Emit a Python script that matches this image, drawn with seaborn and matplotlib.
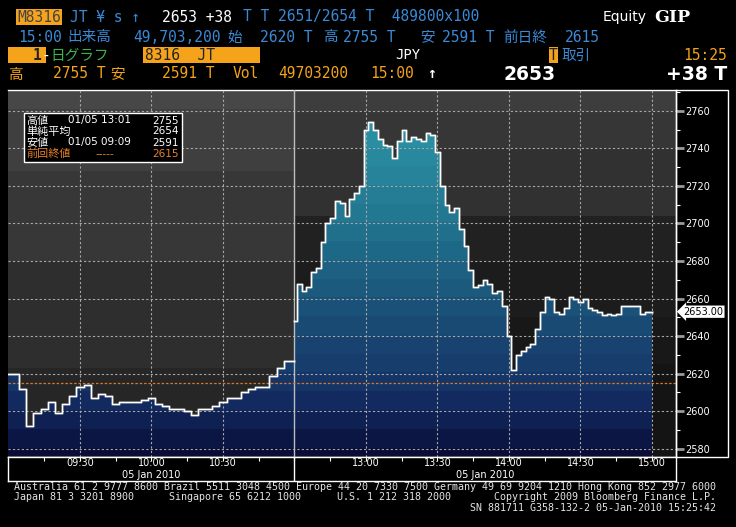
import numpy as np
import matplotlib
matplotlib.use("Agg")
import matplotlib.pyplot as plt
import matplotlib.transforms as mtransforms
from matplotlib.patches import Rectangle
from matplotlib.colors import LinearSegmentedColormap
import seaborn as sns

# 8316 JT intraday, 05 Jan 2010
# x = trading minutes from 09:00 with the lunch break cut out (11:00 -> 12:30 = 120)
am_minutes = np.arange(0, 121, 3)
am_prices = [2620, 2620, 2612, 2592, 2599, 2601, 2605, 2599, 2604, 2608,
             2613, 2614, 2607, 2609, 2608, 2604, 2605, 2605, 2605, 2606,
             2607, 2604, 2603, 2601, 2601, 2600, 2598, 2601, 2601, 2603,
             2605, 2607, 2607, 2610, 2612, 2613, 2613, 2619, 2623, 2627, 2627]
pm_minutes = np.arange(120, 271, 2)
pm_prices = [2648, 2668, 2664, 2666, 2674, 2676, 2690, 2700, 2703, 2712,
             2711, 2704, 2713, 2716, 2720, 2750, 2754, 2750, 2745, 2742,
             2741, 2735, 2744, 2750, 2744, 2746, 2745, 2744, 2748, 2747,
             2738, 2720, 2710, 2706, 2708, 2697, 2688, 2675, 2666, 2667,
             2670, 2668, 2663, 2664, 2656, 2640, 2622, 2630, 2632, 2634,
             2636, 2644, 2653, 2661, 2660, 2653, 2652, 2655, 2661, 2660,
             2658, 2660, 2655, 2654, 2653, 2651, 2652, 2651, 2652, 2656,
             2656, 2656, 2656, 2652, 2653, 2653]

y_ticks = [2580, 2600, 2620, 2640, 2660, 2680, 2700, 2720, 2740, 2760]
y_minor = [2590, 2610, 2630, 2650, 2670, 2690, 2710, 2730, 2750, 2770]
time_ticks = [30, 60, 90, 150, 180, 210, 240, 270]
time_labels = ["09:30", "10:00", "10:30", "13:00", "13:30", "14:00", "14:30", "15:00"]
session_break = 120
prev_close = 2615
last_price = 2653

legend_rows = [("高値", "01/05 13:01", "2755"),
               ("単純平均", "", "2654"),
               ("安値", "01/05 09:09", "2591"),
               ("前回終値", "-----", "2615")]

XMIN, XMAX = -0.2, 280.1
YMIN, YMAX = 2575.9, 2771.3

W, H = 736, 527
fig = plt.figure(figsize=(W / 100, H / 100), dpi=100, facecolor="black")


def fx(x):
    return x / W


def fy(y):
    return 1 - y / H


mono = ["DejaVu Sans Mono", "Noto Sans CJK JP"]
cjk = ["Noto Sans CJK JP", "DejaVu Sans"]
BLUE = "#3a8ad6"
ORANGE = "#f5a31a"
GREEN = "#3cb44a"


def put(x, y, s, color, size=10.5, weight="normal", family=mono, ha="left"):
    fig.text(fx(x), fy(y), s, color=color, fontsize=size, fontweight=weight,
             family=family, ha=ha, va="center")


def box(x0, y0, x1, y1, fc, ec="none", lw=0):
    fig.add_artist(Rectangle((fx(x0), fy(y1)), fx(x1) - fx(x0), (y1 - y0) / H,
                             transform=fig.transFigure, fc=fc, ec=ec, lw=lw))


# ---- main price panel
ax = fig.add_axes([fx(8), fy(456.5), fx(676) - fx(8), (456.5 - 89.5) / H])
ax.set_facecolor("black")

# banded background, lighter in the morning session
am_bands = [(YMIN, 2623, "#262626"), (2623, 2680, "#2e2e2e"), (2680, 2728, "#373737"),
            (2728, 2761, "#3f3f3f"), (2761, YMAX, "#474747")]
pm_bands = [(YMIN, 2625, "#141414"), (2625, 2650, "#181818"), (2650, 2680, "#1c1c1c"),
            (2680, 2704, "#212121"), (2704, 2740, "#313131"), (2740, 2760, "#363636"),
            (2760, YMAX, "#3d3d3d")]
for lo, hi, c in am_bands:
    ax.add_patch(Rectangle((XMIN, lo), session_break - XMIN, hi - lo, color=c, lw=0, zorder=0))
for lo, hi, c in pm_bands:
    ax.add_patch(Rectangle((session_break, lo), XMAX - session_break, hi - lo, color=c, lw=0, zorder=0))

fill_stops = [(2575, "#0a0d38"), (2600, "#11265c"), (2620, "#173b6c"), (2640, "#194772"),
              (2660, "#1b567b"), (2680, "#1e6585"), (2700, "#22748f"), (2720, "#268198"),
              (2740, "#2a8ca1"), (2760, "#2e95a8"), (2772, "#3099aa")]
fill_cmap = LinearSegmentedColormap.from_list(
    "bbg", [((v - 2575) / (2772 - 2575), c) for v, c in fill_stops])
levels = np.arange(YMIN, YMAX, 0.5)
grad = (np.floor(levels / 10) * 10 + 5).reshape(-1, 1)


def draw_session(minutes, prices):
    poly = ax.fill_between(minutes, prices, YMIN, step="mid", color="none", lw=0)
    im = ax.imshow(grad, extent=[minutes[0], minutes[-1], YMIN, YMAX], origin="lower",
                   aspect="auto", cmap=fill_cmap, vmin=2575, vmax=2772,
                   interpolation="nearest", zorder=2)
    im.set_clip_path(poly.get_paths()[0], transform=ax.transData)
    sns.lineplot(x=minutes, y=prices, drawstyle="steps-mid", color="#d8d8d8",
                 lw=2.0, alpha=0.35, ax=ax, zorder=5)
    sns.lineplot(x=minutes, y=prices, drawstyle="steps-mid", color="white",
                 lw=1.0, ax=ax, zorder=6)


draw_session(am_minutes, am_prices)
draw_session(pm_minutes, pm_prices)

for v in y_ticks:
    ax.axhline(v, color="#a8a8a8", lw=0.8, ls=(0, (2, 2)), zorder=3)
for m in time_ticks:
    ax.axvline(m, color="#a8a8a8", lw=0.8, ls=(0, (2, 2)), zorder=3)
ax.axvline(session_break, color="#bdbdbd", lw=1.0, zorder=4)
ax.axhline(prev_close, color="#d9782a", lw=0.9, ls=(0, (2, 1.5)), zorder=4)

ax.set_xlim(XMIN, XMAX)
ax.set_ylim(YMIN, YMAX)
ax.set_xlabel("")
ax.set_ylabel("")
ax.set_xticks([])
ax.yaxis.tick_right()
ax.set_yticks(y_ticks)
ax.set_yticks(y_minor, minor=True)
ax.tick_params(axis="y", which="major", length=6, width=2, color="#9a9a9a",
               labelcolor="white", labelsize=7, pad=1)
ax.tick_params(axis="y", which="minor", length=3, width=0.8, color="white")
ax.spines["left"].set_visible(False)
for side in ["top", "right", "bottom"]:
    ax.spines[side].set_color("white")
    ax.spines[side].set_linewidth(1)

tag = mtransforms.blended_transform_factory(ax.transAxes, ax.transData)
ax.text(1.011, last_price, f"{last_price:.2f}", transform=tag, ha="left", va="center",
        fontsize=7, color="black",
        bbox=dict(boxstyle="larrow,pad=0.12", fc="white", ec="none"))

# ---- time axis strip
tax = fig.add_axes([fx(8), fy(481), fx(676) - fx(8), (481 - 456.5) / H])
tax.set_facecolor("black")
tax.set_xlim(XMIN, XMAX)
tax.set_ylim(0, 1)
tax.set_xticks(np.arange(15, 271, 15))
tax.set_yticks([])
tax.tick_params(axis="x", direction="in", top=True, bottom=False, length=3,
                color="white", labelbottom=False)
for s in tax.spines.values():
    s.set_color("white")
    s.set_linewidth(1)
tax.axvline(session_break, color="white", lw=1)
for m, lab in zip(time_ticks, time_labels):
    tax.text(m, 0.72, lab, ha="center", va="center", color="white", fontsize=7)
tax.text((XMIN + session_break) / 2, 0.24, "05 Jan 2010", ha="center", va="center",
         color="white", fontsize=7)
tax.text((session_break + XMAX) / 2, 0.24, "05 Jan 2010", ha="center", va="center",
         color="white", fontsize=7)

# right price-scale frame
box(676, 89.5, 727.5, 456.5, "none", ec="white", lw=1)

# ---- legend box
box(24, 113, 182, 162, "black", ec="white", lw=1)
row_y = [120.5, 131.5, 142.5, 154]
for (name, when, val), yy in zip(legend_rows, row_y):
    col = "#e8822a" if name == "前回終値" else "white"
    put(26, yy, name, col, size=8, family=cjk)
    if when == "-----":
        put(96, yy, when, col, size=7.5, family=["DejaVu Sans"])
    elif when:
        put(68, yy, when, col, size=7.5, family=["DejaVu Sans"])
    put(179, yy, val, col, size=7.5, family=["DejaVu Sans"], ha="right")

# ---- header
box(16, 9, 62, 25, ORANGE)
put(17, 17, "M8316", "#444444")
put(70, 17, "JT ¥ s ↑", BLUE)
put(162, 17, "2653 +38", "white")
put(243, 17, "T T 2651/2654 T  489800x100", BLUE)
put(603, 17, "Equity", "white", size=10, family=["DejaVu Sans"])
put(654, 17, "GIP", "white", size=12.5, weight="bold", family=["DejaVu Serif"])

line2 = [(18, "15:00"), (67, "出来高"), (133, "49,703,200"), (227, "始"), (260, "2620 T"),
         (323, "高"), (343, "2755 T"), (420, "安"), (442, "2591 T"), (503, "前日終"),
         (565, "2615")]
for x, s in line2:
    put(x, 37, s, BLUE)

box(8, 47, 46, 63, ORANGE)
put(33, 55, "1", "#222222", weight="bold")
put(42, 55, "-", "white")
put(50, 55, "日グラフ", GREEN)
box(143, 47, 260, 63, ORANGE)
put(145, 55, "8316  JT", "#222222")
put(395, 55, "JPY", "white", size=10)
box(549, 47, 558, 63, ORANGE)
put(549, 55, "T", "#222222")
put(562, 55, "取引", BLUE)
put(727, 55, "15:25", ORANGE, ha="right")

line4 = [(8, "高"), (53, "2755 T"), (110, "安"), (162, "2591 T"), (233, "Vol"),
         (278, "49703200"), (370, "15:00")]
for x, s in line4:
    put(x, 74, s, ORANGE)
put(427, 74, "↑", "white", weight="bold")
put(530, 74, "2653", "white", size=13.5, weight="bold", family=["DejaVu Sans"], ha="center")
put(727, 74, "+38 T", "white", size=13.5, weight="bold", family=["DejaVu Sans"], ha="right")

# ---- footer
foot = "#e4e4e4"
put(14, 487, "Australia 61 2 9777 8600 Brazil 5511 3048 4500 Europe 44 20 7330 7500 "
    "Germany 49 69 9204 1210 Hong Kong 852 2977 6000", foot, size=7.2)
put(14, 497.5, "Japan 81 3 3201 8900", foot, size=7.2)
put(169, 497.5, "Singapore 65 6212 1000", foot, size=7.2)
put(337, 497.5, "U.S. 1 212 318 2000", foot, size=7.2)
put(716, 497.5, "Copyright 2009 Bloomberg Finance L.P.", foot, size=7.2, ha="right")
put(716, 508, "SN 881711 G358-132-2 05-Jan-2010 15:25:42", foot, size=7.2, ha="right")

fig.savefig("out.png", dpi=100, facecolor="black")
